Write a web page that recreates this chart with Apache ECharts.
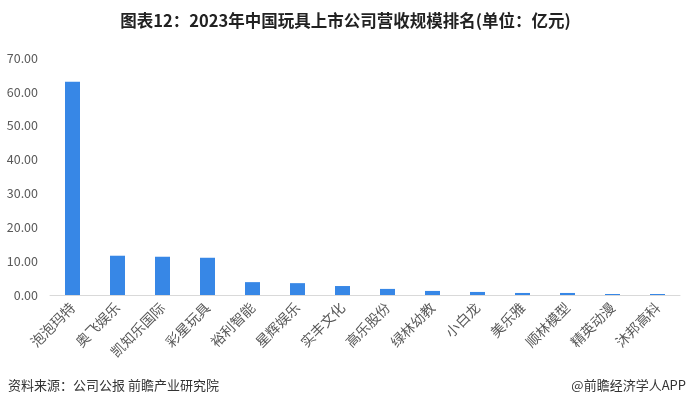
<!DOCTYPE html>
<html><head><meta charset="utf-8">
<script src="https://cdn.jsdelivr.net/npm/echarts@6/dist/echarts.min.js"></script>
<style>html,body{margin:0;padding:0;background:#fff}#c{width:691px;height:410px}</style>
</head><body><div id="c"></div>
<script>
const categories = ['泡泡玛特','奥飞娱乐','凯知乐国际','彩星玩具','裕利智能','星辉娱乐','实丰文化','高乐股份','绿林幼教','小白龙','美乐雅','顺林模型','精英动漫','沐邦高科'];
const values = [63.01, 11.6, 11.3, 11.0, 3.8, 3.5, 2.65, 1.8, 1.2, 0.9, 0.6, 0.6, 0.3, 0.3];
const yTicks = {min: 0, max: 70, interval: 10};
const titleText = '图表12：2023年中国玩具上市公司营收规模排名(单位：亿元)';
const sourceText = '资料来源：公司公报 前瞻产业研究院';
const brandText = '@前瞻经济学人APP';

const chart = echarts.init(document.getElementById('c'));
chart.setOption({
  animation: false,
  backgroundColor: '#fff',
  textStyle: {fontFamily: '"Noto Sans CJK SC", sans-serif'},
  title: {text: titleText, left: 'center', top: 7,
    textStyle: {fontSize: 16.5, fontWeight: 'bold', color: '#222', fontFamily: '"Noto Sans CJK SC", sans-serif'}},
  graphic: [
    {type: 'text', left: 8, top: 379, style: {text: sourceText, fontSize: 13, fill: '#333', fontFamily: '"Noto Sans CJK SC", sans-serif'}},
    {type: 'text', right: 5, top: 379, style: {text: brandText, fontSize: 13, fill: '#333', fontFamily: '"Noto Sans CJK SC", sans-serif'}}
  ],
  grid: {left: 50, right: 11, top: 58, bottom: 115, containLabel: false},
  xAxis: {type: 'category', data: categories,
    axisLine: {lineStyle: {color: '#d9d9d9', width: 1}},
    axisTick: {show: false},
    axisLabel: {rotate: 45, fontSize: 14, color: '#595959', margin: 10, interval: 0}},
  yAxis: {type: 'value', min: yTicks.min, max: yTicks.max, interval: yTicks.interval,
    splitLine: {show: false}, axisLine: {show: false}, axisTick: {show: false},
    axisLabel: {formatter: v => v.toFixed(2), fontSize: 12.5, color: '#595959', margin: 12}},
  series: [{type: 'bar', data: values, barWidth: 15, itemStyle: {color: '#3787e6'}}]
});
</script></body></html>
